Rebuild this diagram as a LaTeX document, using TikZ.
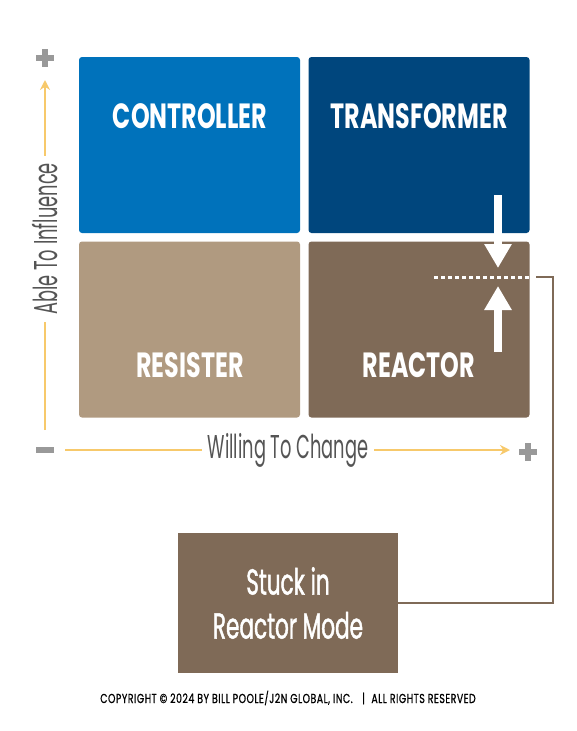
\documentclass[tikz,border=0pt]{standalone}
\usepackage{fontspec}
\setmainfont{Poppins}[FakeStretch=0.68]
\newfontfamily\narrowfont{Poppins}[FakeStretch=0.54]
\newfontfamily\stuckfont{Poppins}[FakeStretch=0.6,FakeBold=1.2]
\newfontfamily\copyfont{Poppins}[FakeStretch=0.72,LetterSpace=4,FakeBold=0.8]
\usepackage[rgb]{xcolor}
\definecolor{ctrlblue}{RGB}{0,114,187}
\definecolor{transblue}{RGB}{0,70,125}
\definecolor{resistan}{RGB}{176,154,128}
\definecolor{reactbrown}{RGB}{127,106,87}
\definecolor{axisyellow}{RGB}{247,201,107}
\definecolor{signgray}{RGB}{153,153,153}
\definecolor{textgray}{RGB}{85,85,85}
\usetikzlibrary{arrows.meta,positioning}

\begin{document}
\begin{tikzpicture}[x=1pt,y=-1pt,
  quad/.style={rectangle,rounded corners=3pt,minimum width=221pt,minimum height=176pt,inner sep=0pt},
  quadtext/.style={text=white,font=\fontsize{35}{35}\selectfont\bfseries},
  axistext/.style={fill=white,text=textgray,inner xsep=6pt,font=\narrowfont\fontsize{33}{33}\selectfont},
  axisline/.style={axisyellow,line width=2pt},
  sign/.style={signgray,line width=6pt},
  bigarrow/.style={white,line width=8pt,-{Triangle[width=26pt,length=24pt]}}
]
\useasboundingbox (0,0) rectangle (576,731);

% the quadrants
\node[quad,fill=ctrlblue]   (ctrl)  at (189.5,145) {};
\node[quad,fill=transblue]  (trans) at (419,145) {};
\node[quad,fill=resistan]   (resi)  at (189.5,329.5) {};
\node[quad,fill=reactbrown] (react) at (419,329.5) {};

\node[quadtext] (ctrltext)  at (190,116) {CONTROLLER};
\node[quadtext] (transtext) at (419,116) {TRANSFORMER};
\node[quadtext] (resitext)  at (190,365) {RESISTER};
\node[quadtext] (reacttext) at (419,365) {REACTOR};

% the axes
\coordinate (ybot) at (45,430);
\coordinate (ytop) at (45,80);
\coordinate (xleft) at (65,450);
\coordinate (xright) at (510,450);
\draw[axisline,-{Stealth[width=10pt,length=10pt]}] (ybot) -- (ytop);
\node[axistext,rotate=90,inner xsep=7pt] (ylabel) at (45,239) {Able To Influence};
\draw[axisline,-{Stealth[width=10pt,length=10pt]}] (xleft) -- (xright);
\node[axistext] (xlabel) at (288,450) {Willing To Change};

% plus and minus signs
\draw[sign] (36,58) -- (54,58) (45,49) -- (45,67);
\draw[sign] (36,450) -- (54,450);
\draw[sign] (519,452) -- (537,452) (528,443) -- (528,461);

% the squeeze
\coordinate (dtop) at (498,195);
\coordinate (dbot) at (498,268);
\coordinate (utop) at (498,286);
\coordinate (ubot) at (498,352);
\draw[bigarrow] (dtop) -- (dbot);
\draw[bigarrow] (ubot) -- (utop);
\coordinate (dotl) at (434,277);
\coordinate (dotr) at (530,277);
\draw[white,line width=3pt,dash pattern=on 4pt off 3pt] (dotl) -- (dotr);

% stuck box
\node[rectangle,fill=reactbrown,minimum width=220pt,minimum height=140pt,
  text=white,align=center,font=\stuckfont\fontsize{36}{44}\selectfont] (stuck) at (288,603)
  {Stuck in\\Reactor Mode};

\coordinate (cstart) at (536,277);
\draw[reactbrown,line width=2pt] (cstart) -- (553,277) |- (stuck.east);

% copyright
\node[font=\copyfont\fontsize{13}{13}\selectfont,text=black] (copy) at (288,698)
  {COPYRIGHT © 2024 BY BILL POOLE/J2N GLOBAL, INC. \enspace|\enspace ALL RIGHTS RESERVED};

\end{tikzpicture}
\end{document}
